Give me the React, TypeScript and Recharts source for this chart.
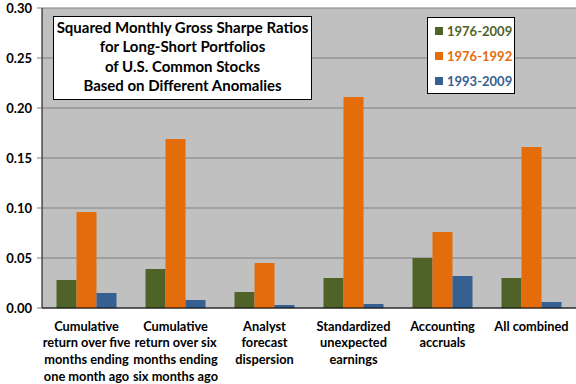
import { Bar, BarChart, CartesianGrid, XAxis, YAxis } from 'recharts';

const FONT = 'Lato, "Open Sans", sans-serif';
const GREEN = '#4F6228';
const ORANGE = '#E46C0A';
const BLUE = '#376092';

const categories = [
  ['Cumulative', 'return over five', 'months ending', 'one month ago'],
  ['Cumulative', 'return over six', 'months ending', 'six months ago'],
  ['Analyst', 'forecast', 'dispersion'],
  ['Standardized', 'unexpected', 'earnings'],
  ['Accounting', 'accruals'],
  ['All combined'],
];
const full = [0.028, 0.039, 0.016, 0.030, 0.050, 0.030];
const early = [0.096, 0.169, 0.045, 0.211, 0.076, 0.161];
const late = [0.015, 0.008, 0.003, 0.004, 0.032, 0.006];
const yTicks = [0, 0.05, 0.1, 0.15, 0.2, 0.25, 0.3];
const boundaryTicks = [0, 1, 2, 3, 4, 5, 6];
const titleLines = [
  'Squared Monthly Gross Sharpe Ratios',
  'for Long-Short Portfolios',
  'of U.S. Common Stocks',
  'Based on Different Anomalies',
];
const series = [
  { key: 'full', name: '1976-2009', color: GREEN },
  { key: 'early', name: '1976-1992', color: ORANGE },
  { key: 'late', name: '1993-2009', color: BLUE },
];

const data = categories.map((lines, i) => ({
  idx: i,
  full: full[i],
  early: early[i],
  late: late[i],
}));

function CategoryTick(props: any) {
  const { x, y, payload } = props;
  const lines = categories[payload.value];
  return (
    <text x={x} y={y} textAnchor="middle" fontFamily={FONT} fontWeight={700} fontSize={12.8} fill="#000">
      {lines.map((l, i) => (
        <tspan key={i} x={x} dy={i === 0 ? 22.5 : 16.8}>
          {l}
        </tspan>
      ))}
    </text>
  );
}

function LegendBox() {
  return (
    <div
      style={{
        position: 'absolute',
        left: 427,
        top: 17,
        width: 86,
        height: 75,
        background: '#fff',
        border: '1px solid #000',
        fontFamily: FONT,
        fontWeight: 700,
        fontSize: 13,
        whiteSpace: 'nowrap',
      }}
    >
      {series.map((s, i) => (
        <div
          key={s.key}
          style={{ position: 'absolute', left: 7, top: 5 + i * 25, display: 'flex', alignItems: 'center', height: 16, color: s.color }}
        >
          <span style={{ width: 8, height: 8, background: s.color, marginRight: 4, display: 'inline-block', flex: 'none' }} />
          <span>{s.name}</span>
        </div>
      ))}
    </div>
  );
}

export default function App() {
  return (
    <div style={{ position: 'relative', width: 576, height: 384, background: '#fff' }}>
      <style>{'body{margin:0}'}</style>
      <BarChart
        width={576}
        height={384}
        data={data}
        margin={{ top: 8, right: 0, bottom: 0, left: 0 }}
        barCategoryGap={14.5}
        barGap={0}
      >
        <CartesianGrid vertical={false} stroke="#808080" fill="#C0C0C0" fillOpacity={1} />
        <XAxis
          dataKey="idx"
          type="category"
          height={76}
          tickLine={false}
          tickSize={0}
          tickMargin={0}
          axisLine={{ stroke: '#000' }}
          tick={<CategoryTick />}
          interval={0}
        />
        <XAxis
          xAxisId="edges"
          type="number"
          domain={[0, 6]}
          ticks={boundaryTicks}
          height={0}
          tickSize={5}
          tickLine={{ stroke: '#000' }}
          axisLine={false}
          tickFormatter={() => ''}
          allowDataOverflow
        />
        <YAxis
          width={42}
          domain={[0, 0.3]}
          ticks={yTicks}
          tickFormatter={(v: number) => v.toFixed(2)}
          tick={{ fontFamily: FONT, fontWeight: 700, fontSize: 13, fill: '#000' }}
          tickSize={5}
          tickMargin={5}
          tickLine={{ stroke: '#808080' }}
          axisLine={{ stroke: '#000' }}
        />
        {series.map((s) => (
          <Bar key={s.key} dataKey={s.key} name={s.name} fill={s.color} isAnimationActive={false} />
        ))}
      </BarChart>
      <LegendBox />
      <div
        style={{
          position: 'absolute',
          left: 53,
          top: 16,
          width: 257,
          height: 81,
          background: '#fff',
          border: '1px solid #000',
          fontFamily: FONT,
          fontWeight: 700,
          fontSize: 15,
          textAlign: 'center',
          lineHeight: '19.4px',
          paddingTop: 1,
          whiteSpace: 'nowrap',
        }}
      >
        {titleLines.map((l, i) => (
          <div key={i}>{l}</div>
        ))}
      </div>
    </div>
  );
}
